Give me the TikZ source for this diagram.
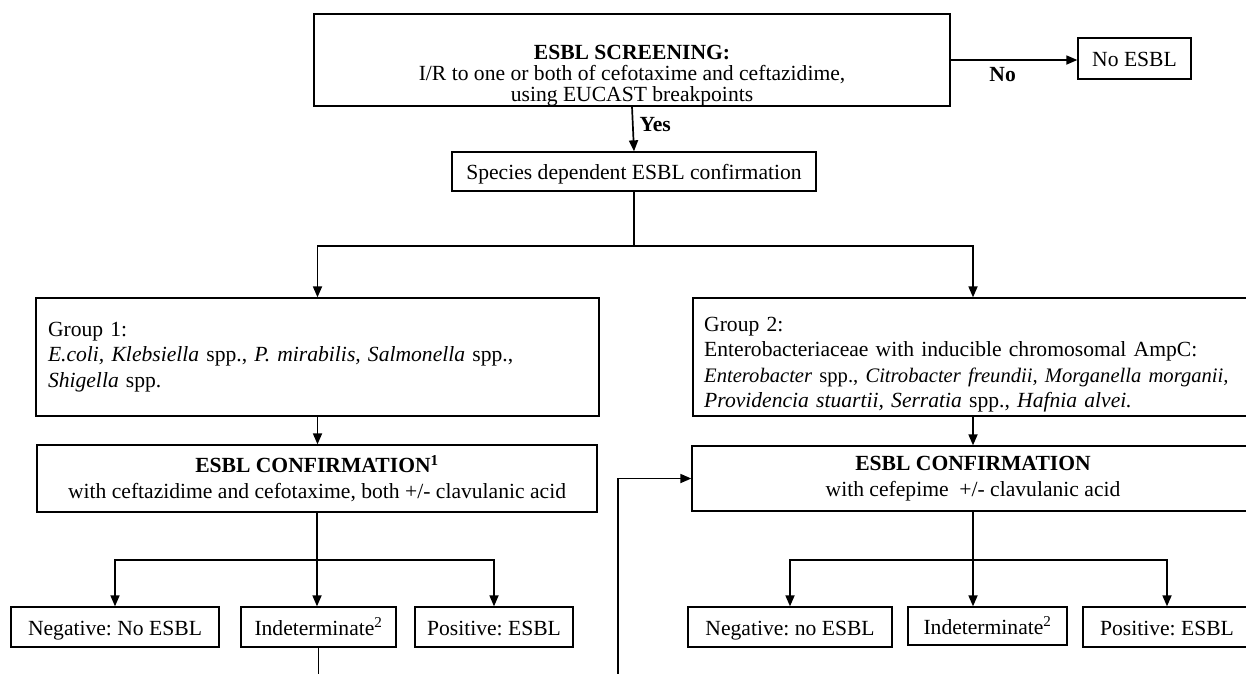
\documentclass[tikz,border=0pt]{standalone}
\usepackage{fontspec}
\setmainfont{Liberation Serif}
\usetikzlibrary{arrows.meta, positioning, calc}

\newcommand{\chartfont}{\fontsize{21.6}{25.3}\selectfont\frenchspacing}

\tikzset{
  box/.style={draw, line width=1.3pt, inner sep=0pt},
  single/.style={box, text height=16pt, text depth=0pt},
  arr/.style={-{Triangle[length=11pt, width=9pt]}, line width=1.7pt},
  link/.style={line width=1.7pt},
  answer/.style={inner sep=0pt, font=\chartfont\bfseries},
}

\begin{document}
\begin{tikzpicture}[x=1pt, y=-1pt, font=\chartfont]
  \useasboundingbox (0,0) rectangle (1246,673);

  % Screening
  \node[box, minimum width=636pt, minimum height=92pt] (screen) at (632, 60) {};
  \node[anchor=north, inner sep=0pt, align=center, font=\fontsize{21.6}{21}\selectfont] (screentxt) at (632, 45) {\textbf{ESBL SCREENING:}\\I/R to one or both of cefotaxime and ceftazidime,\\using EUCAST breakpoints};

  % No ESBL
  \node[single, minimum width=113pt, minimum height=41pt] (noesbl) at (1134.5, 58.5) {No ESBL};
  \draw[arr] (screen.east) -- node[answer, below=7pt, pos=0.41] (no) {No} (screen.east -| noesbl.west);

  % Species
  \node[single, minimum width=364pt, minimum height=39pt] (species) at (634, 171.5) {Species dependent ESBL confirmation};
  \draw[arr] (screen.south) -- node[answer, anchor=west, pos=0.4, xshift=6pt] (yes) {Yes} (species.north);

  % Groups
  \node[box, minimum width=563pt, minimum height=118pt, text width=539pt, align=left] (grp1) at (317.5, 357) {Group 1:\\\textit{E.coli, Klebsiella} spp., \textit{P. mirabilis, Salmonella} spp.,\\\textit{Shigella} spp.};
  \node[box, minimum width=560pt, minimum height=118pt] (grp2) at (973, 357) {};
  \node[anchor=north west, inner sep=0pt, text width=600pt, align=left] (grp2txt) at (704, 317) {Group 2:\\Enterobacteriaceae with inducible chromosomal AmpC:\\{\fontsize{20.6}{25.3}\selectfont\textit{Enterobacter} spp., \textit{Citrobacter freundii, Morganella morganii,}}\\\textit{Providencia stuartii, Serratia} spp., \textit{Hafnia alvei.}};
  \draw[arr] (species.south) -- ++(0,54) -| (grp1.north);
  \draw[arr] (species.south) -- ++(0,54) -| (grp2.north);

  % Confirmation
  \node[box, align=center, minimum width=560pt, minimum height=67pt] (conf1) at (317, 478.5) {\textbf{ESBL CONFIRMATION\textsuperscript{1}}\\with ceftazidime and cefotaxime, both +/- clavulanic acid};
  \node[box, align=center, minimum width=562pt, minimum height=65pt] (conf2) at (973, 478.5) {\textbf{ESBL CONFIRMATION}\\with cefepime\ \ +/- clavulanic acid};
  \draw[arr] (grp1.south) -- (grp1.south |- conf1.north);
  \draw[arr] (grp2.south) -- (conf2.north);

  % Results, group 1
  \node[single, minimum width=208pt, minimum height=40pt] (neg1) at (115, 627) {Negative: No ESBL};
  \node[single, minimum width=155pt, minimum height=40pt] (ind1) at (318.5, 627) {Indeterminate\textsuperscript{2}};
  \node[single, minimum width=158pt, minimum height=40pt] (pos1) at (494, 627) {Positive: ESBL};
  \draw[arr] (conf1.south) -- ++(0,47) -| (neg1.north);
  \draw[arr] (conf1.south) -- ++(0,47) -| (pos1.north);
  \draw[arr] (conf1.south) -- (conf1.south |- ind1.north);

  % Results, group 2
  \node[single, minimum width=204pt, minimum height=40pt] (neg2) at (790, 627) {Negative: no ESBL};
  \node[single, minimum width=159pt, minimum height=38pt] (ind2) at (987.5, 626) {Indeterminate\textsuperscript{2}};
  \node[single, minimum width=168pt, minimum height=40pt] (pos2) at (1167, 627) {Positive: ESBL};
  \draw[arr] (conf2.south) -- ++(0,48) -| (neg2.north);
  \draw[arr] (conf2.south) -- ++(0,48) -| (pos2.north);
  \draw[arr] (conf2.south) -- (conf2.south |- ind2.north);

  % Loop back (runs off the page)
  \coordinate (down1) at (317, 700);
  \coordinate (up2) at (618, 700);
  \draw[link] (ind1.south) -- (ind1.south |- down1);
  \draw[arr] (up2) |- (conf2.west);
\end{tikzpicture}
\end{document}
